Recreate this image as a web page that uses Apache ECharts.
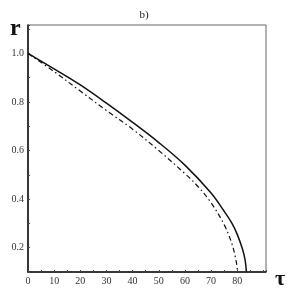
<!DOCTYPE html>
<html><head><meta charset="utf-8">
<script src="https://cdn.jsdelivr.net/npm/echarts@6/dist/echarts.min.js"></script>
<style>html,body{margin:0;padding:0;background:#fff}#c{width:289px;height:300px}</style>
</head><body><div id="c"></div>
<script>
const tauSolid = [0, 10, 20, 30, 40, 50, 60, 70, 75, 78, 80, 82, 83, 83.5];
const rSolid   = [1.0, 0.936, 0.870, 0.795, 0.716, 0.633, 0.540, 0.425, 0.35, 0.30, 0.255, 0.195, 0.15, 0.10];
const tauDash  = [0, 10, 20, 30, 40, 50, 60, 65, 70, 75, 78, 79.5, 80.2];
const rDash    = [1.0, 0.925, 0.845, 0.765, 0.688, 0.600, 0.505, 0.452, 0.385, 0.295, 0.215, 0.15, 0.10];
const xTicks = [0, 10, 20, 30, 40, 50, 60, 70, 80];
const yTicks = [0.2, 0.4, 0.6, 0.8, 1.0];

const font = '"Liberation Serif", "DejaVu Serif", serif';
const chart = echarts.init(document.getElementById('c'), null, {renderer: 'canvas'});
const zip = (a, b) => a.map((v, i) => [v, b[i]]);
chart.setOption({
  animation: false,
  grid: {left: 28, top: 25, right: 23, bottom: 28, show: true, borderColor: '#666', borderWidth: 1},
  xAxis: {type: 'value', min: 0, max: 91, interval: 5,
    axisLine: {lineStyle: {color: '#111', width: 1.5}},
    axisTick: {inside: true, length: 2, lineStyle: {color: '#444'}},
    splitLine: {show: false},
    axisLabel: {fontFamily: font, fontSize: 10, color: '#333', margin: 4,
      formatter: v => xTicks.indexOf(v) >= 0 ? String(v) : ''}},
  yAxis: {type: 'value', min: 0.1, max: 1.117, interval: 0.1,
    axisLine: {lineStyle: {color: '#111', width: 1.5}},
    axisTick: {inside: true, length: 2, lineStyle: {color: '#444'}},
    splitLine: {show: false},
    axisLabel: {fontFamily: font, fontSize: 10, color: '#333', margin: 4,
      formatter: v => {
        const hit = yTicks.find(t => Math.abs(t - v) < 1e-6);
        return hit !== undefined ? hit.toFixed(1) : '';
      }}},
  graphic: [
    {type: 'text', x: 144, y: 10, style: {text: 'b)', fontFamily: font, fontSize: 11, fill: '#222', align: 'center', verticalAlign: 'top'}},
    {type: 'text', left: 10, top: 17, style: {text: 'r', fontFamily: font, fontSize: 24, fontWeight: 'bold', fill: '#111'}},
    {type: 'text', left: 275, top: 268, style: {text: 'τ', fontFamily: font, fontSize: 22, fontWeight: 'bold', fill: '#111'}}
  ],
  series: [
    {type: 'line', data: zip(tauSolid, rSolid), smooth: 0.35, symbol: 'none',
      lineStyle: {color: '#111', width: 1.5}},
    {type: 'line', data: zip(tauDash, rDash), smooth: 0.35, symbol: 'none',
      lineStyle: {color: '#111', width: 1.2, type: [5, 3, 1.5, 3]}}
  ]
});
</script></body></html>
